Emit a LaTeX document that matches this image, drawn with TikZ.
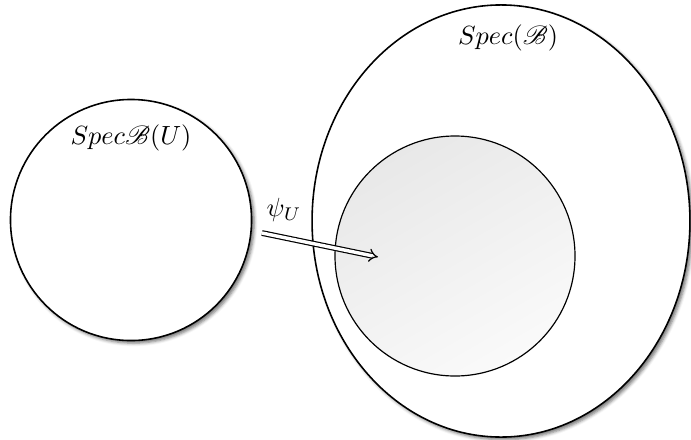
\documentclass[tikz,border=0pt]{standalone}
\usepackage{amsmath,mathrsfs}
\usetikzlibrary{shapes.geometric,shadows.blur,arrows}
\begin{document}
\begin{tikzpicture}[x=0.38pt,y=-0.38pt,
  region/.style={draw, line width=0.6pt, fill=white, inner sep=0pt,
    blur shadow={shadow xshift=1.0pt, shadow yshift=-1.0pt, shadow opacity=55, shadow blur radius=1.2pt}},
  subregion/.style={circle, draw, line width=0.45pt, inner sep=0pt,
    top color=black!9, bottom color=black!2, shading angle=30},
  lbl/.style={inner sep=1pt},
  mapto/.style={double, double distance=1.3pt, line width=0.45pt, -implies}]
\useasboundingbox (0,0) rectangle (691,439);
\node[region, ellipse, minimum width=143.6pt, minimum height=164.2pt] (big) at (501,221) {};
\node[subregion, minimum size=91.2pt] (sub) at (455,256) {};
\node[region, circle, minimum size=91.6pt] (left) at (131,220) {};
\node[lbl] (lblbig) at (508,38) {$Spec(\mathscr{B})$};
\node[lbl] (lblleft) at (131,138) {$Spec\mathscr{B}(U)$};
\node[lbl] (psi) at (284,210) {$\psi_U$};
\coordinate (a1) at (262,233);
\coordinate (a2) at (378,257);
\draw[mapto] (a1) -- (a2);
\end{tikzpicture}
\end{document}
